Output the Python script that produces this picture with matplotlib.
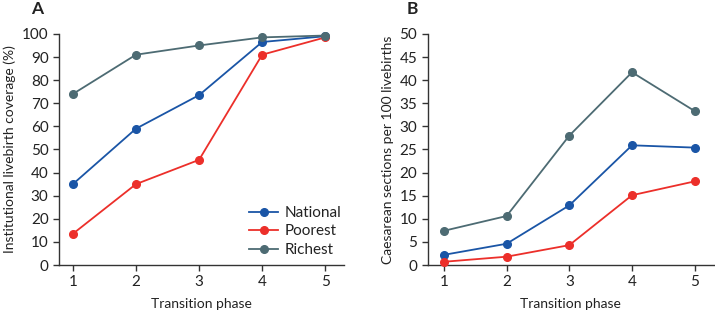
import matplotlib
matplotlib.use("Agg")
import matplotlib.pyplot as plt

plt.rcParams['font.family'] = ['Lato', 'DejaVu Sans']

phases = [1, 2, 3, 4, 5]
series_names = ["National", "Poorest", "Richest"]
colors = {"National": "#1a55a6", "Poorest": "#ec2f2a", "Richest": "#4d6b73"}

coverage_national = [35, 59, 73.5, 96.5, 99]
coverage_poorest = [13.5, 35, 45.5, 91, 98.5]
coverage_richest = [74, 91, 95, 98.5, 99.3]

cs_national = [2.2, 4.6, 12.9, 25.9, 25.4]
cs_poorest = [0.7, 1.8, 4.3, 15.1, 18.1]
cs_richest = [7.4, 10.6, 28.0, 41.7, 33.3]

yticks_a = list(range(0, 101, 10))
yticks_b = list(range(0, 51, 5))

fig = plt.figure(figsize=(7.15, 3.14), dpi=100)
axA = fig.add_axes([0.0825, 0.156, 0.398, 0.736])
axB = fig.add_axes([0.598, 0.156, 0.4, 0.736])

fs = 11
tc = "#222222"

def style(ax, yticks, ylabel, ymax, xlim):
    for s in ["top", "right"]:
        ax.spines[s].set_visible(False)
    for s in ["left", "bottom"]:
        ax.spines[s].set_linewidth(1.0)
        ax.spines[s].set_color("#333333")
    ax.set_xlim(*xlim)
    ax.set_ylim(0, ymax)
    ax.set_xticks(phases)
    ax.set_yticks(yticks)
    ax.tick_params(axis="both", labelsize=fs, colors="#333333", labelcolor=tc,
                   length=4, width=1.0, direction="out")
    ax.set_xlabel("Transition phase", fontsize=10, color=tc, labelpad=6)
    ax.set_ylabel(ylabel, fontsize=10, color=tc, labelpad=4)

for name, vals in zip(series_names, [coverage_national, coverage_poorest, coverage_richest]):
    axA.plot(phases, vals, color=colors[name], lw=1.3, marker="o", ms=5.5,
             label=name, clip_on=False, zorder=3)
for name, vals in zip(series_names, [cs_national, cs_poorest, cs_richest]):
    axB.plot(phases, vals, color=colors[name], lw=1.3, marker="o", ms=5.5,
             label=name, clip_on=False, zorder=3)

style(axA, yticks_a, "Institutional livebirth coverage (%)", 100, (0.78, 5.29))
style(axB, yticks_b, "Caesarean sections per 100 livebirths", 50, (0.74, 5.3))

axA.legend(loc="lower right", frameon=False, fontsize=11, handlelength=1.9,
           handletextpad=0.4, labelspacing=0.3, bbox_to_anchor=(1.04, -0.025),
           labelcolor=tc)

fig.text(37 / 715, 1 - 9 / 314, "A", fontsize=12.5, fontweight="bold", color=tc,
         ha="center", va="center")
fig.text(412 / 715, 1 - 9 / 314, "B", fontsize=12.5, fontweight="bold", color=tc,
         ha="center", va="center")

fig.savefig("out.png", dpi=100)
